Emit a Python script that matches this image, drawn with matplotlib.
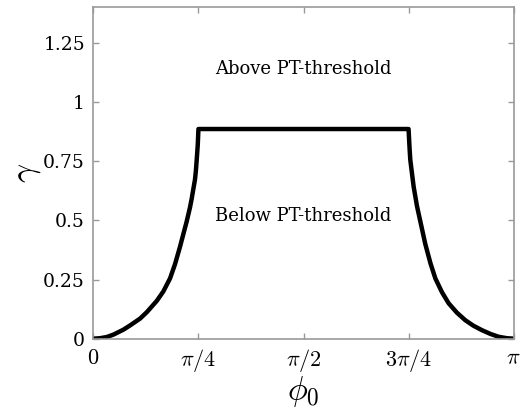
import numpy as np
import matplotlib
matplotlib.use('Agg')
import matplotlib.pyplot as plt

plt.rcParams['font.family'] = 'DejaVu Serif'
plt.rcParams['mathtext.fontset'] = 'cm'

# gamma threshold vs phi_0 (phi in radians)
phi_left = np.array([0.0, 0.050, 0.100, 0.149, 0.224, 0.274, 0.349, 0.399,
                     0.474, 0.523, 0.573, 0.610, 0.647, 0.697, 0.722, 0.734,
                     0.759, 0.766, 0.772, 0.780, 0.785])
gamma_left = np.array([0.0, 0.002, 0.007, 0.017, 0.038, 0.056, 0.085, 0.112,
                       0.160, 0.200, 0.255, 0.315, 0.388, 0.495, 0.555, 0.590,
                       0.672, 0.710, 0.755, 0.820, 0.886])

phi_mid = np.array([0.785, 2.356])
gamma_mid = np.array([0.886, 0.886])

phi_right = np.array([2.356, 2.362, 2.365, 2.369, 2.394, 2.419, 2.431, 2.481,
                      2.520, 2.556, 2.605, 2.655, 2.717, 2.780, 2.840, 2.904,
                      2.968, 3.029, 3.090, 3.1416])
gamma_right = np.array([0.886, 0.820, 0.790, 0.755, 0.642, 0.560, 0.529, 0.400,
                        0.318, 0.255, 0.197, 0.150, 0.110, 0.078, 0.055, 0.036,
                        0.020, 0.008, 0.002, 0.0])

phi = np.concatenate([phi_left, phi_mid[1:], phi_right[1:]])
gamma = np.concatenate([gamma_left, gamma_mid[1:], gamma_right[1:]])

xticks = [0, np.pi / 4, np.pi / 2, 3 * np.pi / 4, np.pi]
xlabels = ['$0$', r'$\pi/4$', r'$\pi/2$', r'$3\pi/4$', r'$\pi$']
yticks = [0, 0.25, 0.5, 0.75, 1, 1.25]
ylabels = ['0', '0.25', '0.5', '0.75', '1', '1.25']

fig = plt.figure(figsize=(5.22, 4.11), dpi=100)
ax = fig.add_axes([0.179, 0.176, 0.805, 0.806])
ax.plot(phi, gamma, color='black', lw=3.2, solid_joinstyle='round', solid_capstyle='round')

ax.set_xlim(0, np.pi)
ax.set_ylim(0, 1.4)
ax.set_xticks(xticks)
ax.set_xticklabels(xlabels, fontsize=16)
ax.set_yticks(yticks)
ax.set_yticklabels(ylabels, fontsize=13.5)
ax.tick_params(direction='in', length=4, width=1, color='#999999',
               top=True, right=True, pad=6)
for s in ax.spines.values():
    s.set_color('#999999')
    s.set_linewidth(1.2)

ax.set_xlabel(r'$\phi_0$', fontsize=24, labelpad=0)
ax.set_ylabel(r'$\gamma$', fontsize=24, labelpad=0)

ax.text(np.pi / 2, 1.14, 'Above PT-threshold', ha='center', va='center', fontsize=13)
ax.text(np.pi / 2, 0.52, 'Below PT-threshold', ha='center', va='center', fontsize=13)

fig.savefig('out.png', dpi=100)
